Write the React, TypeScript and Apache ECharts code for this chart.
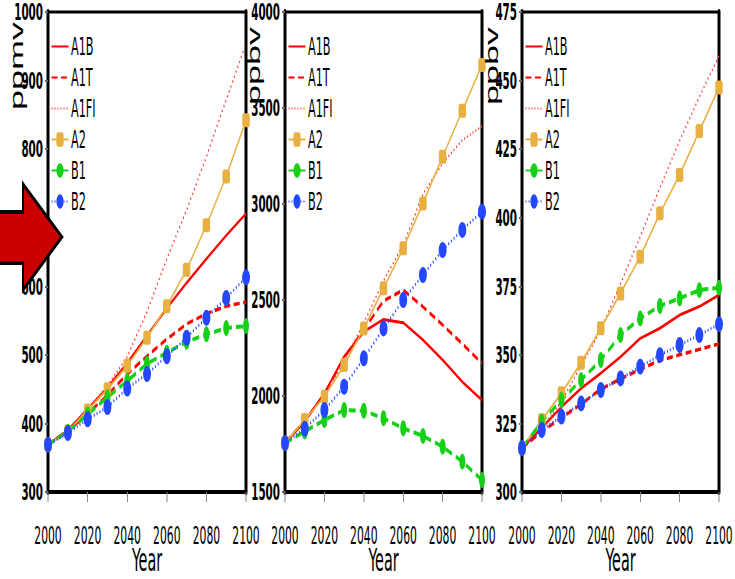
import React, { useEffect, useRef } from "react";
import * as echarts from "echarts";

// ---------- data ----------
const years = [2000, 2010, 2020, 2030, 2040, 2050, 2060, 2070, 2080, 2090, 2100];
const scenarios = ["A1B", "A1T", "A1FI", "A2", "B1", "B2"];

// CO2 (ppmv)
const co2A1B = [369, 390, 421, 452, 488, 528, 568, 605, 640, 674, 706];
const co2A1T = [369, 389, 414, 441, 472, 498, 523, 545, 560, 571, 577];
const co2A1FI = [369, 391, 420, 455, 497, 563, 640, 711, 789, 872, 954];
const co2A2 = [369, 388, 419, 450, 484, 525, 571, 624, 689, 760, 842];
const co2B1 = [369, 388, 413, 438, 462, 487, 503, 519, 530, 539, 542];
const co2B2 = [369, 386, 406, 424, 451, 472, 498, 525, 554, 583, 613];

// CH4 (ppbv)
const ch4A1B = [1755, 1866, 2014, 2205, 2335, 2399, 2382, 2292, 2188, 2074, 1979];
const ch4A1T = [1755, 1871, 2010, 2200, 2345, 2495, 2552, 2465, 2370, 2272, 2170];
const ch4A1FI = [1755, 1870, 2005, 2180, 2380, 2600, 2786, 3050, 3212, 3333, 3405];
const ch4A2 = [1755, 1875, 1996, 2161, 2352, 2561, 2769, 3003, 3246, 3486, 3724];
const ch4B1 = [1755, 1815, 1875, 1927, 1923, 1884, 1832, 1792, 1736, 1658, 1562];
const ch4B2 = [1755, 1830, 1927, 2048, 2196, 2352, 2500, 2630, 2760, 2865, 2960];

// N2O (ppbv)
const n2oA1B = [316, 323.4, 331, 337.8, 343.3, 349.3, 356, 359.7, 364.5, 367.6, 371.8];
const n2oA1T = [316, 322, 327, 332, 337.5, 341.2, 344.7, 348, 350, 352, 354];
const n2oA1FI = [316, 323, 333, 346, 359, 376, 393, 411, 428, 444, 459];
const n2oA2 = [316, 326.2, 336, 347.1, 359.7, 372.4, 385.8, 401.6, 415.6, 431.6, 447.5];
const n2oB1 = [316, 325.6, 333.5, 340.8, 348.1, 357.2, 363.3, 367.8, 370.6, 373.6, 374.5];
const n2oB2 = [316, 322.6, 327.5, 332.3, 337.2, 341.4, 345.7, 349.9, 353.6, 357.2, 361.2];

const unitLabels = ["ppmv", "ppbv", "ppbv"];
const yMins = [300, 1500, 300];
const yMaxs = [1000, 4000, 475];
const yIntervals = [100, 500, 25];
const xAxisName = "Year";

const panelData: Record<string, number[]>[] = [
  { A1B: co2A1B, A1T: co2A1T, A1FI: co2A1FI, A2: co2A2, B1: co2B1, B2: co2B2 },
  { A1B: ch4A1B, A1T: ch4A1T, A1FI: ch4A1FI, A2: ch4A2, B1: ch4B1, B2: ch4B2 },
  { A1B: n2oA1B, A1T: n2oA1T, A1FI: n2oA1FI, A2: n2oA2, B1: n2oB1, B2: n2oB2 },
];

// ---------- styles ----------
const FONT = "'Liberation Sans Narrow', 'Arial Narrow', 'DejaVu Sans Condensed', 'Liberation Sans', Arial, sans-serif";
const gridLefts = [96, 570, 1044];
const gridWidths = [396, 394, 394];
const unitX = [34, 508, 984];

const seriesStyle: Record<string, any> = {
  A1B: { color: "#ff0000", type: "solid", width: 3, symbol: "none", size: 0 },
  A1T: { color: "#ff0000", type: [12, 7], width: 3.5, symbol: "none", size: 0 },
  A1FI: { color: "#ff3a3a", type: [2, 4], width: 2.5, symbol: "none", size: 0 },
  A2: { color: "#e8b040", type: "solid", width: 2.5, symbol: "roundRect", size: [15, 14] },
  B1: { color: "#16d016", type: [14, 8], width: 4, symbol: "circle", size: [12, 16] },
  B2: { color: "#2448ff", type: [2, 4], width: 3, symbol: "circle", size: [16, 16] },
};

const plain = (v: number) => String(v);

export default function App() {
  const ref = useRef<HTMLDivElement>(null);

  useEffect(() => {
    if (!ref.current) return;
    const chart = echarts.init(ref.current, undefined, { renderer: "svg" });

    const grids = gridLefts.map((l, i) => ({
      left: l,
      top: 12,
      width: gridWidths[i],
      height: 480,
      containLabel: false,
      outerBoundsMode: "none",
      show: true,
      borderColor: "#000",
      borderWidth: 3,
      backgroundColor: "transparent",
    }));

    const xAxes = gridLefts.map((_, i) => ({
      type: "value",
      gridIndex: i,
      min: 2000,
      max: 2100,
      interval: 20,
      axisLine: { show: true, lineStyle: { color: "#000", width: 4 } },
      axisTick: { show: true, length: 10, lineStyle: { color: "#888", width: 2 } },
      axisLabel: { fontSize: 24, margin: 31, color: "#000", fontFamily: FONT, formatter: plain },
      splitLine: { show: false },
      name: xAxisName,
      nameLocation: "middle",
      nameGap: 52,
      nameMoveOverlap: false,
      nameTextStyle: { fontSize: 32, lineHeight: 32, color: "#000", fontFamily: FONT },
    }));

    const yAxes: any[] = [];
    gridLefts.forEach((_, i) => {
      yAxes.push({
        type: "value",
        gridIndex: i,
        min: yMins[i],
        max: yMaxs[i],
        interval: yIntervals[i],
        axisLine: { show: true, lineStyle: { color: "#000", width: 6 } },
        axisTick: { show: true, length: 6, lineStyle: { color: "#666", width: 2 } },
        axisLabel: { fontSize: 23, fontWeight: "bold", margin: 10, color: "#000", fontFamily: FONT, formatter: plain },
        splitLine: { show: false },
      });
      yAxes.push({
        type: "value",
        gridIndex: i,
        position: "right",
        min: yMins[i],
        max: yMaxs[i],
        interval: yIntervals[i],
        axisLine: { show: true, lineStyle: { color: "#000", width: 6 } },
        axisTick: { show: false },
        axisLabel: { show: false },
        splitLine: { show: false },
      });
    });

    const series: any[] = [];
    panelData.forEach((pd, i) => {
      scenarios.forEach((s) => {
        const st = seriesStyle[s];
        const noSym = st.symbol === "none";
        series.push({
          type: "line",
          name: s,
          xAxisIndex: i,
          yAxisIndex: 2 * i,
          data: years.map((y, k) => [y, pd[s][k]]),
          symbol: st.symbol,
          symbolSize: st.size,
          showSymbol: !noSym,
          itemStyle: { color: st.color, opacity: noSym ? 0 : 1 },
          lineStyle: { color: st.color, width: st.width, type: st.type },
          emphasis: { disabled: true },
        });
      });
    });

    const legends = gridLefts.map((l) => ({
      orient: "vertical",
      left: l + 6,
      top: 34,
      padding: 0,
      itemWidth: 34,
      itemHeight: 18,
      itemGap: 6,
      textStyle: { fontSize: 25, color: "#000", fontFamily: FONT },
      data: scenarios,
    }));

    const graphic: any[] = [
      {
        type: "polygon",
        z: 100,
        shape: {
          points: [
            [-6, 212],
            [46, 212],
            [46, 184],
            [124, 237],
            [46, 290],
            [46, 263],
            [-6, 263],
          ],
        },
        style: { fill: "#cc0000", stroke: "#000", lineWidth: 4 },
      },
      ...unitLabels.map((u, i) => ({
        type: "text",
        x: unitX[i],
        y: 66,
        rotation: Math.PI / 2,
        z: 50,
        style: {
          text: u,
          fontSize: 36,
          fill: "#000",
          align: "center",
          verticalAlign: "middle",
          fontFamily: "'Liberation Sans', Arial, sans-serif",
        },
      })),
    ];

    chart.setOption({
      animation: false,
      backgroundColor: "#fff",
      textStyle: { fontFamily: FONT },
      grid: grids,
      xAxis: xAxes,
      yAxis: yAxes,
      legend: legends,
      series,
      graphic,
    });

    return () => chart.dispose();
  }, []);

  return (
    <div
      style={{
        position: "absolute",
        left: 0,
        top: 0,
        width: 735,
        height: 579,
        overflow: "hidden",
        background: "#fff",
      }}
    >
      <div
        ref={ref}
        style={{ width: 1470, height: 579, transform: "scaleX(0.5)", transformOrigin: "0 0" }}
      />
    </div>
  );
}
